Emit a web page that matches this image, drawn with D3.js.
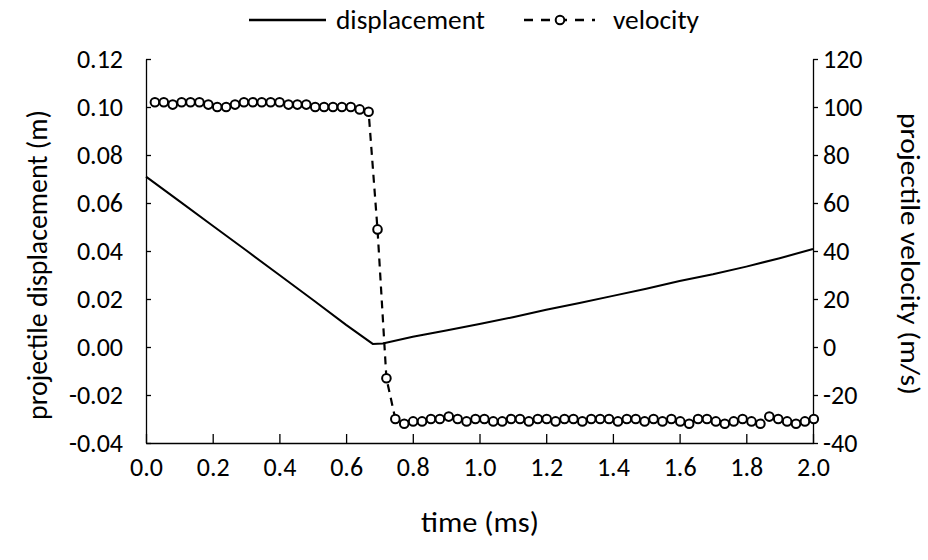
<!DOCTYPE html>
<html>
<head>
<meta charset="utf-8">
<script src="https://cdn.jsdelivr.net/npm/d3@7"></script>
<style>
  body { margin: 0; background: #fff; }
  text { font-family: Calibri, Carlito, Lato, sans-serif; fill: #000; }
</style>
</head>
<body>
<svg id="chart" width="928" height="560"></svg>
<script>
"use strict"

// displacement (m) vs time (ms)
var dispTime  = [0.0, 0.1, 0.2, 0.3, 0.4, 0.5, 0.6, 0.68, 0.71, 0.8, 0.9, 1.0, 1.1, 1.2, 1.3, 1.4, 1.5, 1.6, 1.7, 1.8, 1.9, 2.0];
var dispValue = [0.071, 0.0608, 0.0505, 0.0403, 0.0300, 0.0197, 0.0092, 0.0013, 0.0015, 0.0043, 0.0069, 0.0096, 0.0124, 0.0155, 0.0183, 0.0213, 0.0243, 0.0275, 0.0303, 0.0335, 0.0370, 0.0408];

// velocity (m/s), sampled every ~0.0267 ms
var velStep = 0.0267;
var velValue = [
  102, 102, 101, 102, 102, 102, 101, 100, 100, 101, 102, 102, 102, 102, 102, 101, 101, 101, 100, 100, 100, 100, 100, 99, 98,
  49, -13, -30,
  -32, -31, -31, -30, -30, -29, -30, -31, -30, -30, -31, -31, -30, -30, -31, -30, -30, -31, -30, -30,
  -31, -30, -30, -30, -31, -30, -30, -31, -30, -31, -30, -31, -32, -30, -30, -31, -32, -31, -30, -31,
  -32, -29, -30, -31, -32, -31, -30
];

var xTicks = [0, 0.2, 0.4, 0.6, 0.8, 1.0, 1.2, 1.4, 1.6, 1.8, 2.0];
var yLeftTicks  = [-0.04, -0.02, 0, 0.02, 0.04, 0.06, 0.08, 0.10, 0.12];
var yRightTicks = [-40, -20, 0, 20, 40, 60, 80, 100, 120];

var svg = d3.select("#chart");
var plotL = 146, plotR = 813, plotT = 59, plotB = 443;

var x  = d3.scaleLinear().domain([0, 2]).range([plotL, plotR]);
var yL = d3.scaleLinear().domain([-0.04, 0.12]).range([plotB, plotT]);
var yR = d3.scaleLinear().domain([-40, 120]).range([plotB, plotT]);

var velData = velValue.map(function(v, i){ return {t: (i + 1) * velStep, v: v}; });
var dispData = dispTime.map(function(t, i){ return {t: t, d: dispValue[i]}; });

// axes
var xAxis = d3.axisBottom(x).tickValues(xTicks).tickSizeInner(-9).tickSizeOuter(0)
  .tickPadding(15).tickFormat(d3.format(".1f"));
var gx = svg.append("g").attr("transform", "translate(0," + plotB + ")").call(xAxis);

var lAxis = d3.axisLeft(yL).tickValues(yLeftTicks).tickSizeInner(-5).tickSizeOuter(0)
  .tickPadding(23).tickFormat(d3.format(".2f"));
var gl = svg.append("g").attr("transform", "translate(" + plotL + ",0)").call(lAxis);

var rAxis = d3.axisRight(yR).tickValues(yRightTicks).tickSizeInner(5).tickSizeOuter(0)
  .tickPadding(5).tickFormat(d3.format("d"));
var gr = svg.append("g").attr("transform", "translate(" + plotR + ",0)").call(rAxis);

[gx, gl, gr].forEach(function(g){
  g.select(".domain").attr("stroke", "#000").attr("stroke-width", 1.3);
  g.selectAll(".tick line").attr("stroke", "#000").attr("stroke-width", 1.3);
  g.selectAll(".tick text").style("font-size", "26px").attr("fill", "#000")
   .style("font-family", "Calibri, Carlito, Lato, sans-serif");
});
// plain hyphen for negatives, like the original
gl.selectAll(".tick text").text(function(d){ return d.toFixed(2); });
gr.selectAll(".tick text").text(function(d){ return String(d); });

// displacement line
var dispLine = d3.line().x(function(d){ return x(d.t); }).y(function(d){ return yL(d.d); });
svg.append("path").datum(dispData)
  .attr("d", dispLine).attr("fill", "none").attr("stroke", "#000").attr("stroke-width", 2);

// velocity dashed line
var velLine = d3.line().x(function(d){ return x(d.t); }).y(function(d){ return yR(d.v); });
svg.append("path").datum(velData)
  .attr("d", velLine).attr("fill", "none").attr("stroke", "#000")
  .attr("stroke-width", 2.2).attr("stroke-dasharray", "8,6");

svg.append("g").selectAll("circle")
  .data(velData)
  .enter()
  .append("circle")
  .attr("cx", function(d){ return x(d.t); })
  .attr("cy", function(d){ return yR(d.v); })
  .attr("r", 4.3)
  .attr("fill", "#fff")
  .attr("stroke", "#000")
  .attr("stroke-width", 2);

// axis titles
svg.append("text").attr("x", 480).attr("y", 532)
  .attr("text-anchor", "middle").style("font-size", "28px")
  .attr("textLength", 118).attr("lengthAdjust", "spacingAndGlyphs").text("time (ms)");
svg.append("text").attr("transform", "translate(47,265) rotate(-90)")
  .attr("text-anchor", "middle").style("font-size", "28px")
  .attr("textLength", 310).attr("lengthAdjust", "spacingAndGlyphs").text("projectile displacement (m)");
svg.append("text").attr("transform", "translate(901,254) rotate(90)")
  .attr("text-anchor", "middle").style("font-size", "26px")
  .attr("textLength", 282).attr("lengthAdjust", "spacingAndGlyphs").text("projectile velocity (m/s)");

// legend
var lg = svg.append("g");
lg.append("line").attr("x1", 249).attr("x2", 326).attr("y1", 20).attr("y2", 20)
  .attr("stroke", "#000").attr("stroke-width", 2.4);
lg.append("text").attr("x", 336).attr("y", 29).style("font-size", "27px")
  .attr("textLength", 149).attr("lengthAdjust", "spacingAndGlyphs").text("displacement");
lg.append("line").attr("x1", 524).attr("x2", 595).attr("y1", 20).attr("y2", 20)
  .attr("stroke", "#000").attr("stroke-width", 2.4).attr("stroke-dasharray", "9,8");
lg.append("circle").attr("cx", 560).attr("cy", 20).attr("r", 4.3)
  .attr("fill", "#fff").attr("stroke", "#000").attr("stroke-width", 2);
lg.append("text").attr("x", 613).attr("y", 29).style("font-size", "27px")
  .attr("textLength", 86).attr("lengthAdjust", "spacingAndGlyphs").text("velocity");
</script>
</body>
</html>
